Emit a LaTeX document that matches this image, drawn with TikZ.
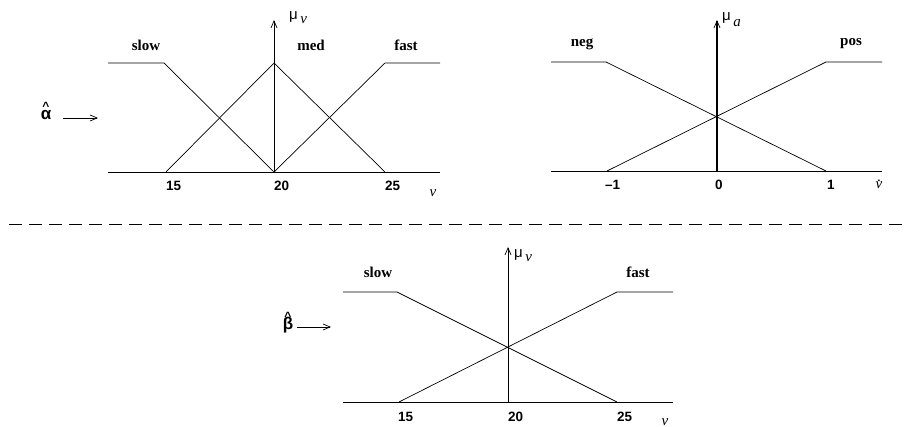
\documentclass[tikz,border=0pt]{standalone}
\usepackage{fontspec}
\setmainfont{Liberation Serif}
\setsansfont{Liberation Sans}
\usetikzlibrary{arrows.meta,positioning}

\newcommand{\dotover}[1]{\ooalign{#1\cr\hidewidth\raisebox{7pt}{.}\hidewidth\cr}}
\newcommand{\hatover}[1]{\ooalign{#1\cr\hidewidth\raisebox{9pt}{\fontsize{12}{12}\selectfont\^{}}\hidewidth\cr}}

\tikzset{
  curve/.style={line width=0.7pt},
  axisline/.style={line width=0.8pt,-{Straight Barb[length=7pt,width=6pt,line width=0.7pt]}},
  inarrow/.style={line width=0.7pt,-{Straight Barb[length=7pt,width=6pt]}},
  setname/.style={font=\fontsize{15}{15}\selectfont\bfseries},
  ticklab/.style={font=\sffamily\bfseries\fontsize{13.5}{13.5}\selectfont,anchor=west,inner sep=0pt},
  varlab/.style={font=\fontsize{15}{15}\selectfont,inner sep=0pt},
  inlab/.style={font=\sffamily\bfseries\fontsize{17}{17}\selectfont,inner sep=0pt}
}

\begin{document}
\begin{tikzpicture}[x=1pt,y=-1pt]
  \useasboundingbox (0,0) rectangle (908,427);

  % --- top left: speed sets
  \draw[curve] (108,172) -- (440,172);
  \draw[curve] (108,63) -- (164,63) -- (274,172);
  \draw[curve] (166,172) -- (274,63) -- (385,172);
  \draw[curve] (274,172) -- (385,63) -- (440,63);
  \coordinate (vbase) at (274,172);
  \coordinate (vtop) at (274,20);
  \draw[axisline] (vbase) -- (vtop);
  \node[varlab,anchor=west] (muv) at (289,18) {{\sffamily μ}\,\raisebox{-4pt}{\textit{ν}}};
  \node[setname] (slow) at (146,45) {slow};
  \node[setname] (med) at (311,45) {med};
  \node[setname] (fast) at (406,45) {fast};
  \node[ticklab] (t15) at (166,186) {15};
  \node[ticklab] (t20) at (274,186) {20};
  \node[ticklab] (t25) at (385,186) {25};
  \node[varlab] (nu) at (433,193) {\textit{ν}};
  % alpha input
  \node[inlab] (alpha) at (46,115) {\hatover{α}};
  \coordinate (alphastart) at (63,118);
  \coordinate (alphaend) at (98,118);
  \draw[inarrow] (alphastart) -- (alphaend);

  % --- top right: acceleration sets
  \draw[curve] (551,171) -- (882,171);
  \draw[curve] (551,62) -- (606,62) -- (826,171);
  \draw[curve] (607,171) -- (826,62) -- (882,62);
  \coordinate (abase) at (717,171);
  \coordinate (atop) at (717,20);
  \draw[axisline,line width=1.2pt] (abase) -- (atop);
  \node[varlab,anchor=west] (mua) at (722,20) {{\sffamily μ}\,\raisebox{-6pt}{\textit{a}}};
  \node[setname] (neg) at (582,44) {neg};
  \node[setname] (pos) at (851,44) {pos};
  \node[ticklab] (tm1) at (605,185) {--1};
  \node[ticklab] (t0) at (715,185) {0};
  \node[ticklab] (t1) at (827,185) {1};
  \node[varlab] (nudot) at (879,185) {\dotover{\textit{ν}}};

  % --- separator
  \coordinate (sepl) at (9,224);
  \coordinate (sepr) at (908,224);
  \draw[line width=0.7pt,dash pattern=on 13pt off 7pt] (sepl) -- (sepr);

  % --- bottom: speed sets for beta
  \draw[curve] (343,402) -- (673,402);
  \draw[curve] (343,292) -- (397,292) -- (617,402);
  \draw[curve] (399,402) -- (617,292) -- (673,292);
  \coordinate (bbase) at (508,402);
  \coordinate (btop) at (508,247);
  \draw[axisline] (bbase) -- (btop);
  \node[varlab,anchor=west] (mub) at (514,256) {{\sffamily μ}\,\raisebox{-4pt}{\textit{ν}}};
  \node[setname] (bslow) at (378,272) {slow};
  \node[setname] (bfast) at (638,272) {fast};
  \node[ticklab] (b15) at (398,417) {15};
  \node[ticklab] (b20) at (508,417) {20};
  \node[ticklab] (b25) at (617,417) {25};
  \node[varlab] (bnu) at (665,422) {\textit{ν}};
  % beta input
  \node[inlab] (beta) at (288,323) {\hatover{β}};
  \coordinate (betastart) at (297,327);
  \coordinate (betaend) at (331,327);
  \draw[inarrow] (betastart) -- (betaend);
\end{tikzpicture}
\end{document}
